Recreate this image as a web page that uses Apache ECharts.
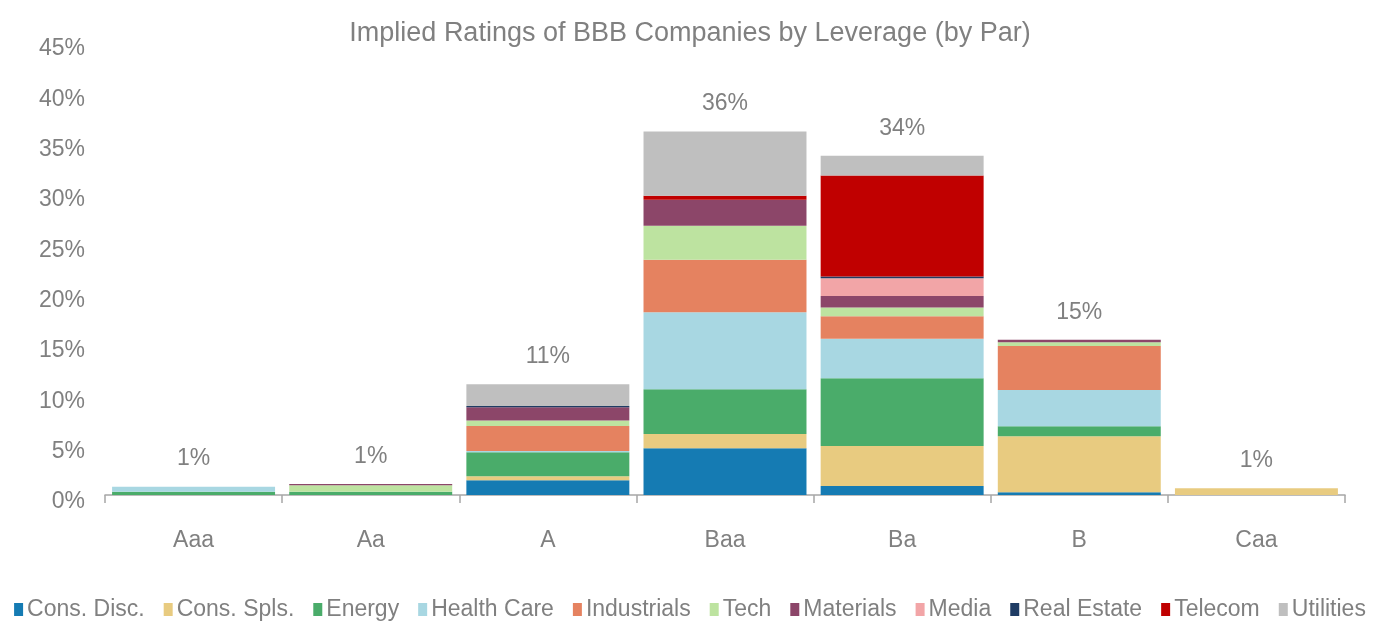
<!DOCTYPE html>
<html>
<head>
<meta charset="utf-8">
<script src="https://cdn.jsdelivr.net/npm/echarts@6/dist/echarts.min.js"></script>
<style>
html,body{margin:0;padding:0;background:#fff;}
#chart{width:1380px;height:629px;}
</style>
</head>
<body>
<div id="chart"></div>
<script>
var categories = ['Aaa', 'Aa', 'A', 'Baa', 'Ba', 'B', 'Caa'];
var consDisc    = [0,    0,    1.46, 4.64, 0.89, 0.27, 0];
var consSpls    = [0,    0,    0.40, 1.42, 3.98, 5.56, 0.67];
var energy      = [0.33, 0.33, 2.38, 4.45, 6.73, 1.00, 0];
var healthCare  = [0.50, 0,    0.13, 7.65, 3.91, 3.61, 0];
var industrials = [0,    0,    2.49, 5.20, 2.25, 4.37, 0];
var tech        = [0,    0.63, 0.53, 3.38, 0.86, 0.37, 0];
var materials   = [0,    0.13, 1.33, 2.58, 1.16, 0.23, 0];
var media       = [0,    0,    0,    0,    1.76, 0,    0];
var realEstate  = [0,    0,    0.13, 0,    0.16, 0,    0];
var telecom     = [0,    0,    0,    0.40, 10.04, 0,   0];
var utilities   = [0,    0,    2.15, 6.39, 1.96, 0,    0];
var totalLabels = ['1%', '1%', '11%', '36%', '34%', '15%', '1%'];
var yTicks = ['0%', '5%', '10%', '15%', '20%', '25%', '30%', '35%', '40%', '45%'];

var seriesDefs = [
  ['Cons. Disc.', consDisc, '#157bb3'],
  ['Cons. Spls.', consSpls, '#e8cb80'],
  ['Energy', energy, '#4aac6a'],
  ['Health Care', healthCare, '#a8d7e2'],
  ['Industrials', industrials, '#e58260'],
  ['Tech', tech, '#bde3a0'],
  ['Materials', materials, '#8c4669'],
  ['Media', media, '#f2a5a7'],
  ['Real Estate', realEstate, '#1f3c64'],
  ['Telecom', telecom, '#c00000'],
  ['Utilities', utilities, '#bfbfbf']
];
var FONT = "'Liberation Sans Narrow', 'Arial Narrow', 'Liberation Sans', Arial, sans-serif";
var TXT = '#808080';
var FS = 23;

var totals = categories.map(function (c, i) {
  var s = 0;
  seriesDefs.forEach(function (d) { s += d[1][i]; });
  return s;
});

var series = seriesDefs.map(function (d) {
  return {
    name: d[0], type: 'bar', stack: 'all', data: d[1],
    barWidth: '92%',
    itemStyle: { color: d[2] },
    emphasis: { disabled: true }
  };
});
series.push({
  name: 'Total', type: 'bar', data: totals, barWidth: '92%', barGap: '-100%',
  z: 1, silent: true,
  itemStyle: { color: 'rgba(0,0,0,0)' },
  label: {
    show: true, position: 'top', distance: 16,
    color: TXT, fontFamily: FONT, fontSize: FS,
    formatter: function (p) { return totalLabels[p.dataIndex]; }
  }
});

var chart = echarts.init(document.getElementById('chart'), null, { renderer: 'canvas' });
chart.setOption({
  animation: false,
  backgroundColor: '#fff',
  title: {
    text: 'Implied Ratings of BBB Companies by Leverage (by Par)',
    left: 'center', top: 15,
    textStyle: { color: TXT, fontFamily: FONT, fontSize: 27, fontWeight: 'normal' }
  },
  legend: {
    data: seriesDefs.map(function (d) { return d[0]; }),
    bottom: 3, left: 'center',
    itemWidth: 9, itemHeight: 13, itemGap: 19,
    icon: 'rect',
    textStyle: { color: TXT, fontFamily: FONT, fontSize: FS, padding: [0, 0, 0, -1] }
  },
  grid: { left: 105, right: 35, top: 42, bottom: 134 },
  xAxis: {
    type: 'category', data: categories,
    axisLine: { lineStyle: { color: '#a6a6a6', width: 1.5 } },
    axisTick: { show: true, length: 8, lineStyle: { color: '#a6a6a6', width: 1.5 } },
    axisLabel: { color: TXT, fontFamily: FONT, fontSize: FS, margin: 34 }
  },
  yAxis: {
    type: 'value', min: 0, max: 45, interval: 5,
    axisLine: { show: false }, axisTick: { show: false },
    splitLine: { show: false },
    axisLabel: {
      color: TXT, fontFamily: FONT, fontSize: FS, margin: 20,
      verticalAlign: 'top', lineHeight: 14,
      formatter: function (v) { return yTicks[Math.round(v / 5)]; }
    }
  },
  series: series
});
</script>
</body>
</html>
